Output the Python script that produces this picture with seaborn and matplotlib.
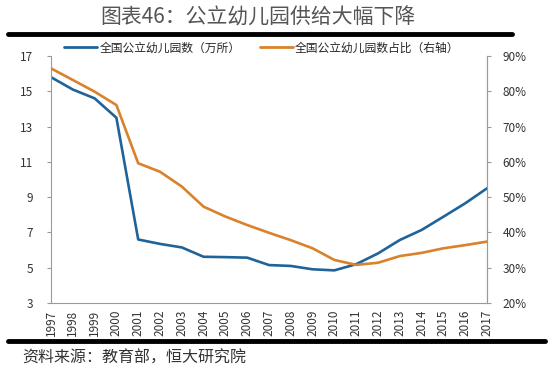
import numpy as np
import pandas as pd
import seaborn as sns
import matplotlib.pyplot as plt
from matplotlib.lines import Line2D

sns.set_theme(style='white')
plt.rcParams['font.family'] = ['Noto Sans CJK SC', 'DejaVu Sans']

# data
years = list(range(1997, 2018))
public_count = [15.8, 15.1, 14.6, 13.5, 6.6, 6.35, 6.15, 5.62, 5.6, 5.57, 5.15,
                5.1, 4.91, 4.85, 5.2, 5.81, 6.57, 7.14, 7.89, 8.65, 9.5]
public_share = [86.5, 83.2, 79.9, 76.1, 59.6, 57.2, 53.0, 47.3, 44.5, 42.1, 39.9,
                37.8, 35.5, 32.2, 30.8, 31.4, 33.3, 34.2, 35.5, 36.4, 37.4]
left_ticks = [3, 5, 7, 9, 11, 13, 15, 17]
right_ticks = [20, 30, 40, 50, 60, 70, 80, 90]

title = '图表46：公立幼儿园供给大幅下降'
label_count = '全国公立幼儿园数（万所）'
label_share = '全国公立幼儿园数占比（右轴）'
source = '资料来源：教育部，恒大研究院'

blue = '#1f6399'
orange = '#d9822b'
grey = '#9a9a9a'

df = pd.DataFrame({'year': years, 'count': public_count, 'share': public_share})

fig = plt.figure(figsize=(5.5, 3.72), dpi=100)
ax = fig.add_axes([51 / 550, 1 - 303 / 372, 436 / 550, 247 / 372])
ax2 = ax.twinx()

sns.lineplot(data=df, x='year', y='count', ax=ax, color=blue, linewidth=1.9)
sns.lineplot(data=df, x='year', y='share', ax=ax2, color=orange, linewidth=1.9)

ax.set_xlim(1997, 2017)
ax.set_ylim(3, 17)
ax2.set_ylim(20, 90)
ax.set_xticks(years)
ax.set_xticklabels([str(y) for y in years], rotation=90, fontsize=8.5, color='#333333')
ax.set_yticks(left_ticks)
ax.set_yticklabels([str(t) for t in left_ticks], fontsize=8.5, color='#333333')
ax2.set_yticks(right_ticks)
ax2.set_yticklabels([f'{t}%' for t in right_ticks], fontsize=8.5, color='#333333')
ax.set_xlabel('')
ax.set_ylabel('')
ax2.set_ylabel('')

for a in (ax, ax2):
    a.spines['top'].set_visible(False)
    for s in ('left', 'right', 'bottom'):
        a.spines[s].set_color(grey)
        a.spines[s].set_linewidth(0.8)
    a.grid(False)
ax.tick_params(axis='x', direction='out', length=3, color=grey, width=0.8, pad=2)
ax.tick_params(axis='y', direction='out', length=3, color=grey, width=0.8, pad=10)
ax2.tick_params(axis='y', direction='out', length=3, color=grey, width=0.8, pad=8)
ax2.spines['left'].set_visible(False)
ax2.spines['bottom'].set_visible(False)

handles = [Line2D([0], [0], color=blue, lw=2), Line2D([0], [0], color=orange, lw=2)]
fig.legend(handles, [label_count, label_share], loc='center', ncol=2,
           bbox_to_anchor=(262 / 550, 1 - 48 / 372), frameon=False, fontsize=8.5,
           handlelength=2.8, handletextpad=0.2, columnspacing=1.6)

fig.text(258 / 550, 1 - 18 / 372, title, ha='center', va='center', fontsize=15,
         color='#555555', fontweight='light')
fig.add_artist(Line2D([8 / 550, 512 / 550], [1 - 34 / 372] * 2, color='black', lw=3.5))
fig.add_artist(Line2D([8 / 550, 545 / 550], [1 - 341 / 372] * 2, color='black', lw=3.5))
fig.text(22 / 550, 1 - 358 / 372, source, ha='left', va='center', fontsize=11.5,
         color='#333333', style='italic', fontweight='light')

fig.savefig('out.png', dpi=100)
